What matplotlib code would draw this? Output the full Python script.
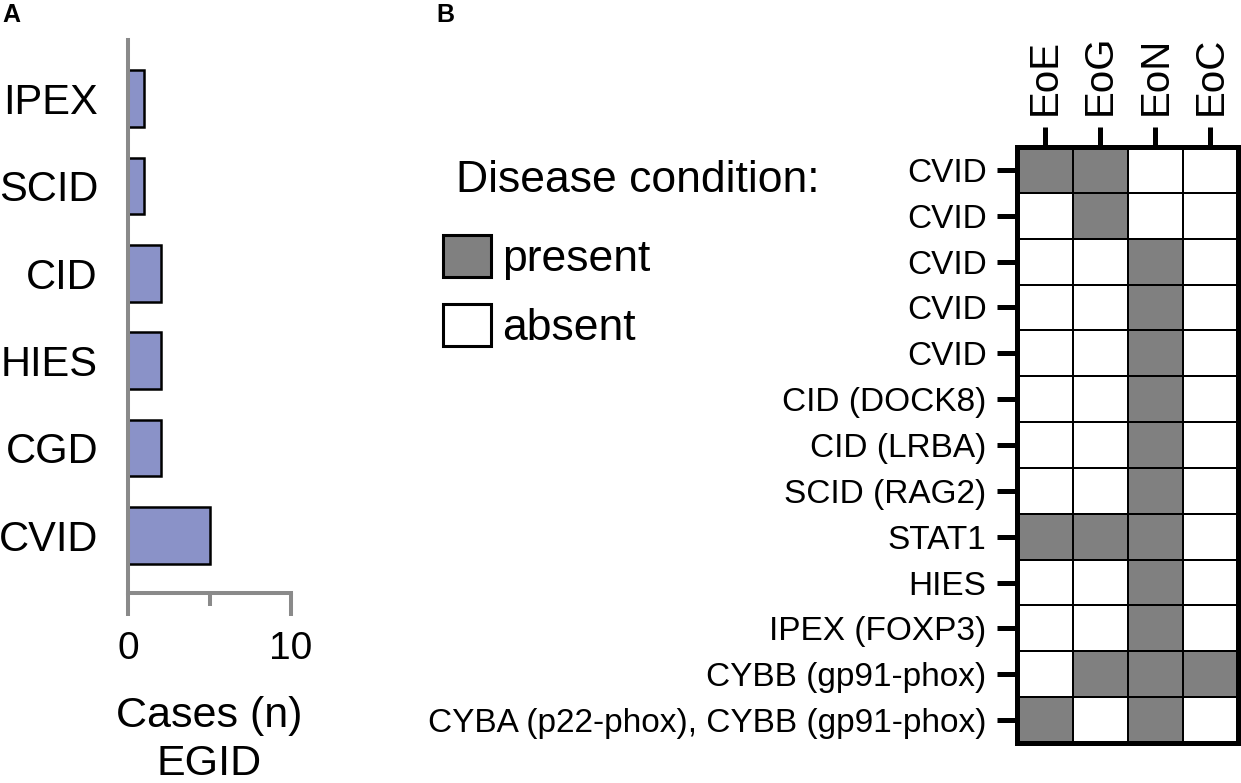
import matplotlib
matplotlib.use("Agg")
import matplotlib.pyplot as plt
import numpy as np
from matplotlib.colors import ListedColormap
from matplotlib.patches import Patch

# panel A: EGID cases per inborn error of immunity (bottom to top)
categories = ["CVID", "CGD", "HIES", "CID", "SCID", "IPEX"]
cases = [5, 2, 2, 2, 1, 1]

# panel B: which EGID each patient had
conditions = ["EoE", "EoG", "EoN", "EoC"]
patients = [
    "CVID", "CVID", "CVID", "CVID", "CVID",
    "CID (DOCK8)", "CID (LRBA)", "SCID (RAG2)", "STAT1", "HIES",
    "IPEX (FOXP3)", "CYBB (gp91-phox)",
    "CYBA (p22-phox), CYBB (gp91-phox)",
]
present = [
    [1, 1, 0, 0],
    [0, 1, 0, 0],
    [0, 0, 1, 0],
    [0, 0, 1, 0],
    [0, 0, 1, 0],
    [0, 0, 1, 0],
    [0, 0, 1, 0],
    [0, 0, 1, 0],
    [1, 1, 1, 0],
    [0, 0, 1, 0],
    [0, 0, 1, 0],
    [0, 1, 1, 1],
    [1, 0, 1, 0],
]
legend_labels = ["present", "absent"]

W, H, DPI = 1241, 783, 100
BAR = "#8a92c8"
AXIS_GREY = "#8a8a8a"
CELL_GREY = "#808080"

plt.rcParams["font.family"] = ["Liberation Sans", "DejaVu Sans"]


def box(left, top, right, bottom):
    """Pixel box -> figure fraction [l, b, w, h]."""
    return [left / W, 1 - bottom / H, (right - left) / W, (bottom - top) / H]


fig = plt.figure(figsize=(W / DPI, H / DPI), dpi=DPI)

# ---- A ----
ax_a = fig.add_axes(box(128, 40, 291, 593))
ypos = np.arange(len(categories))
ax_a.barh(ypos, cases, height=0.65, color=BAR, edgecolor="black",
          linewidth=1.8, zorder=1)
ax_a.set_xlim(0, 10)
ax_a.set_ylim(-0.66, len(categories) - 0.33)
ax_a.set_yticks(ypos, categories, fontsize=30)
ax_a.tick_params(axis="y", length=0, pad=21.6)
ax_a.set_xticks([0, 10])
ax_a.set_xticks([5], minor=True)
ax_a.tick_params(axis="x", which="major", length=16.5, width=2.9,
                 color=AXIS_GREY, labelsize=28, pad=11)
ax_a.tick_params(axis="x", which="minor", length=9.4, width=2.9,
                 color=AXIS_GREY)
for side in ("top", "right"):
    ax_a.spines[side].set_visible(False)
for side in ("left", "bottom"):
    ax_a.spines[side].set_linewidth(2.9)
    ax_a.spines[side].set_color(AXIS_GREY)
ax_a.set_facecolor("none")

fig.text(209.5 / W, 1 - 727 / H, "Cases (n)", fontsize=31,
         ha="center", va="baseline")
fig.text(209.5 / W, 1 - 775 / H, "EGID", fontsize=31,
         ha="center", va="baseline")

# ---- B ----
ax_b = fig.add_axes(box(1017.5, 147, 1238, 743))
ax_b.pcolormesh(np.array(present), cmap=ListedColormap(["white", CELL_GREY]),
                vmin=0, vmax=1, edgecolors="black", linewidth=1.2)
ax_b.set_xlim(0, len(conditions))
ax_b.set_ylim(len(patients), 0)
ax_b.xaxis.tick_top()
ax_b.set_xticks(np.arange(len(conditions)) + 0.5, conditions,
                rotation=90, fontsize=29)
ax_b.set_yticks(np.arange(len(patients)) + 0.5, patients, fontsize=24)
ax_b.tick_params(axis="both", length=14.4, width=3.6, color="black")
ax_b.tick_params(axis="x", pad=8.6)
ax_b.tick_params(axis="y", pad=7.9)
for spine in ax_b.spines.values():
    spine.set_linewidth(3.6)
    spine.set_color("black")

fig.text(456 / W, 1 - 192 / H, "Disease condition:", fontsize=32,
         va="baseline")
handles = [
    Patch(facecolor=CELL_GREY, edgecolor="black", linewidth=2.2),
    Patch(facecolor="white", edgecolor="black", linewidth=2.2),
]
fig.legend(handles, legend_labels, loc="upper left",
           bbox_to_anchor=(443 / W, 1 - 235 / H), frameon=False,
           fontsize=32, handlelength=1.08, handleheight=1.06,
           handletextpad=0.25, borderpad=0, borderaxespad=0,
           labelspacing=0.55)

# panel letters
fig.text(2 / W, 1 - 3 / H, "A", fontsize=18, weight="bold", va="top")
fig.text(436 / W, 1 - 3 / H, "B", fontsize=18, weight="bold", va="top")

fig.savefig("out.png", dpi=DPI)
